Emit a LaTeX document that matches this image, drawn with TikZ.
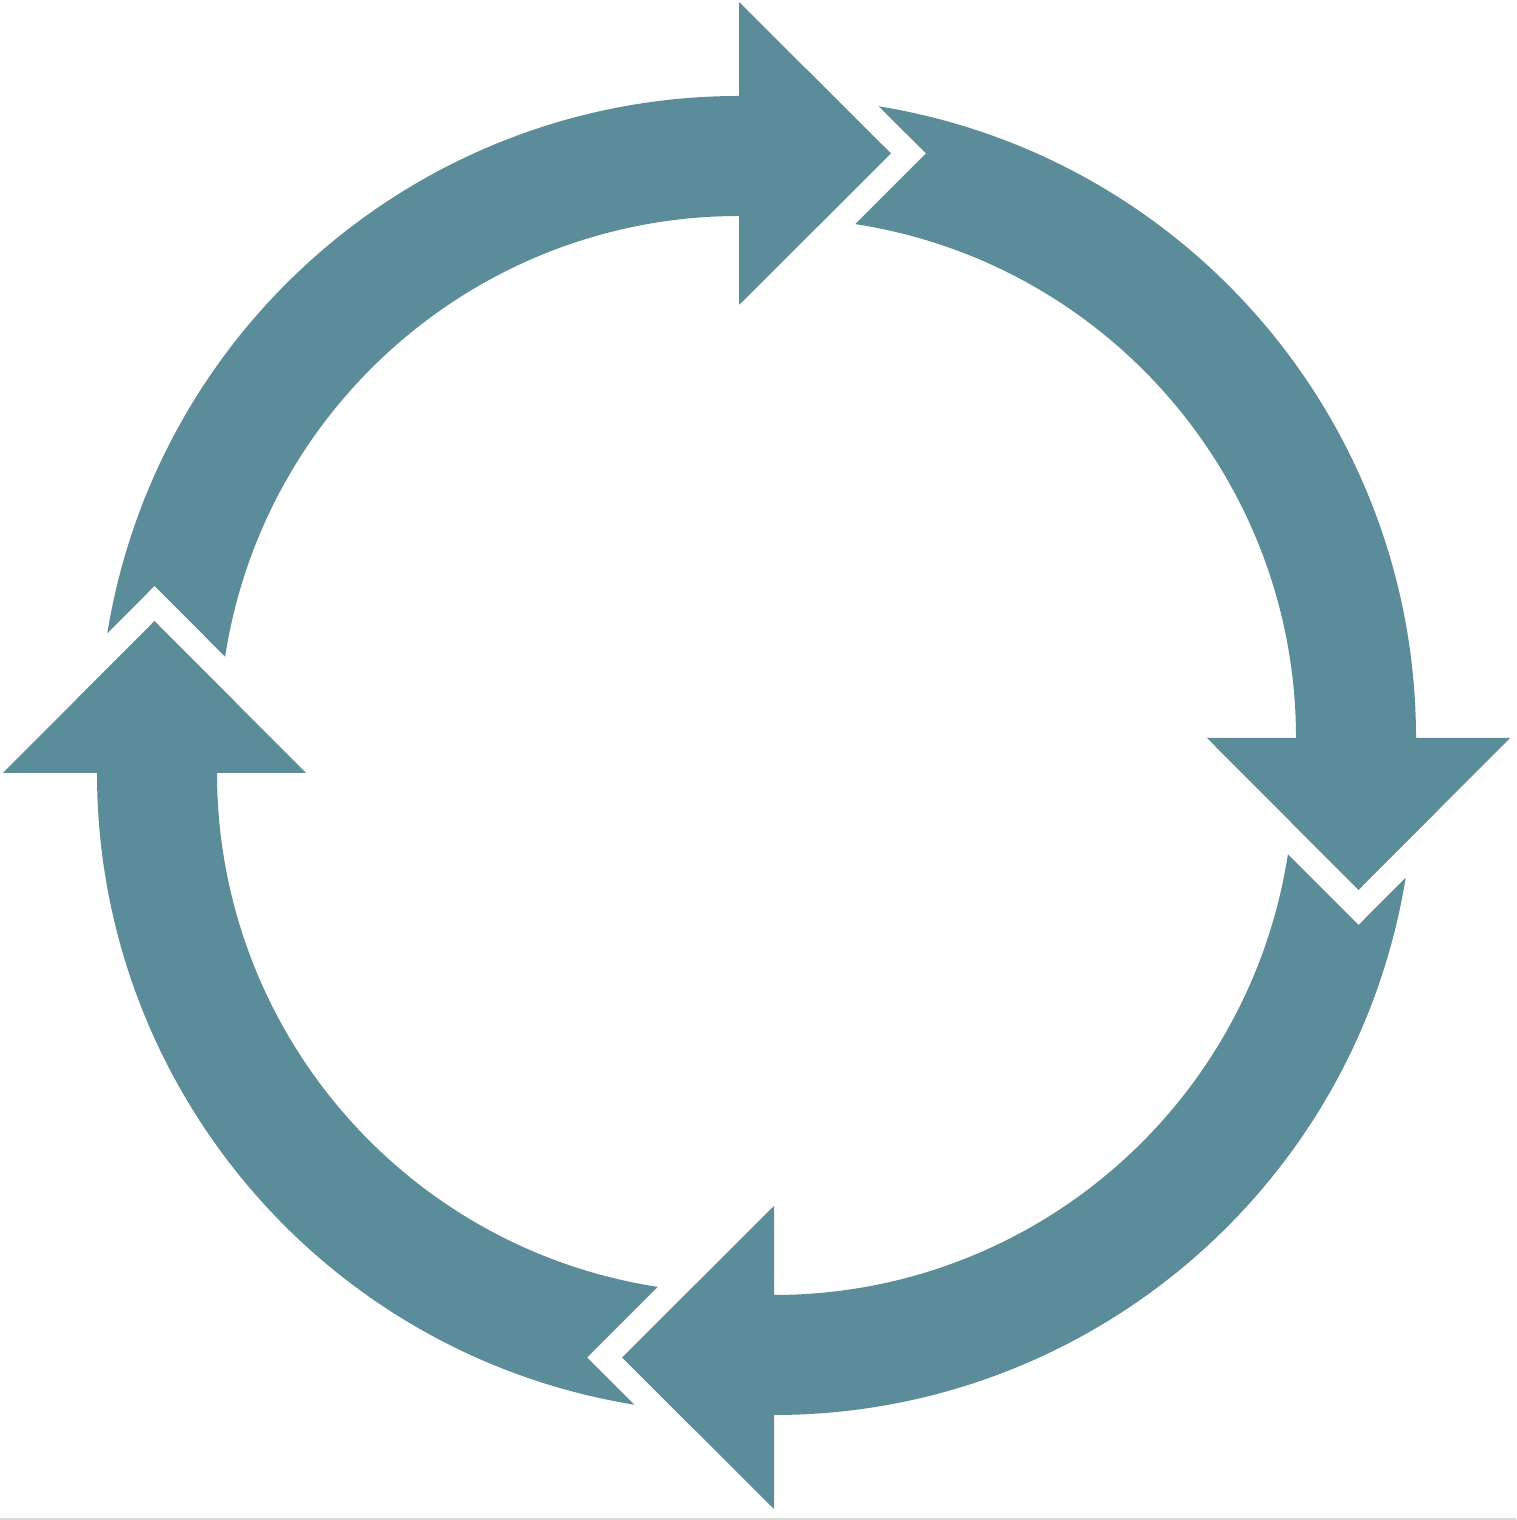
\documentclass[tikz,border=0pt]{standalone}
\definecolor{arrowteal}{HTML}{5A8C99}
\definecolor{edgegrey}{HTML}{DADADA}
\tikzset{cyclefill/.style={fill=arrowteal}}
\begin{document}
\begin{tikzpicture}[x=0.5pt,y=0.5pt]
\useasboundingbox (0,0) rectangle (1516,1520);
\coordinate (O) at (756.5,764.5);
\foreach \k in {0,1,2,3}{
  \begin{scope}[rotate around={-90*\k:(O)}]
    \begin{scope}[shift={(739,784)}]
      \fill[cyclefill] (-584.5,150) -- (171.22:520)
        arc[start angle=171.22,end angle=90,radius=520]
        -- (0,431) -- (152,582.5) -- (0,734) -- (0,640)
        arc[start angle=90,end angle=170.76,radius=640] -- cycle;
    \end{scope}
  \end{scope}
}
\fill[edgegrey] (0,0) rectangle (1516,2);
\end{tikzpicture}
\end{document}
